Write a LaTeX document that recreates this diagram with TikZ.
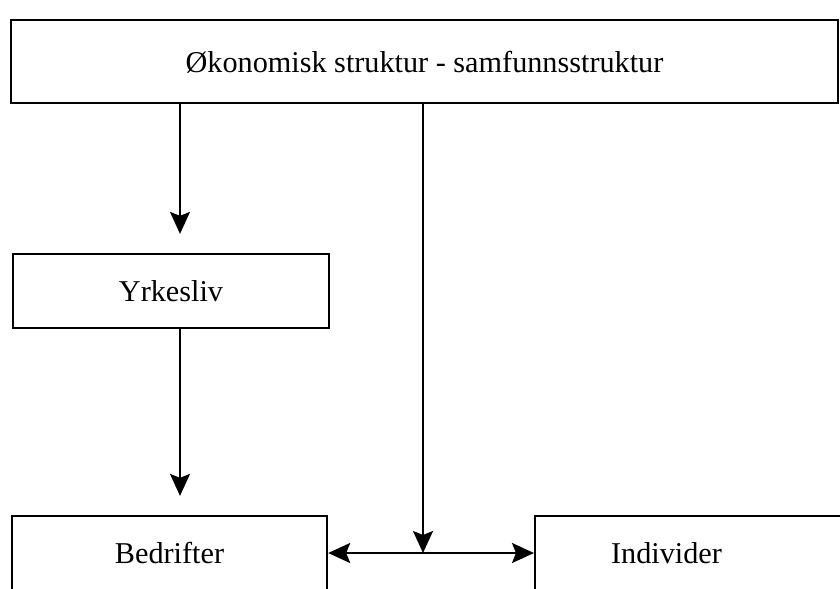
\documentclass[tikz,border=0pt]{standalone}
\usepackage{fontspec}
\setmainfont{Liberation Serif}
\usetikzlibrary{arrows.meta}

\begin{document}
\begin{tikzpicture}[x=0.025cm, y=-0.025cm,
    boks/.style={draw, line width=1.6pt, inner sep=0pt, text depth=0pt, font=\fontsize{21.5}{26}\selectfont},
    pil/.style={line width=1.5pt, -{Stealth[length=0.55cm,width=0.5cm,inset=0.1cm]}}]
    \clip (0,0) rectangle (840,588);

    \node[boks, minimum width=20.675cm, minimum height=2.075cm] (okonomi) at (424.5,61.5) {Økonomisk struktur - samfunnsstruktur};
    \node[boks, minimum width=7.9cm, minimum height=1.85cm] (yrkesliv) at (171,291) {Yrkesliv};
    \node[boks, minimum width=7.875cm, minimum height=1.85cm] (bedrifter) at (169.5,553) {Bedrifter};
    \node[boks, anchor=west, minimum height=1.85cm, inner xsep=1.9cm, text width=4.1cm, align=left] (individer) at (534,553) {Individer};
    \coordinate (kryss) at (423,553);

    % piler
    \draw[pil, shorten >=0.475cm] (okonomi.south -| 180,0) -- (yrkesliv.north -| 180,0);
    \draw[pil, shorten >=0.475cm] (yrkesliv.south -| 180,0) -- (bedrifter.north -| 180,0);
    \draw[pil] (okonomi.south -| kryss) -- (kryss);
    \draw[pil] (kryss) -- (bedrifter.east);
    \draw[pil] (kryss) -- (individer.west);
\end{tikzpicture}
\end{document}
